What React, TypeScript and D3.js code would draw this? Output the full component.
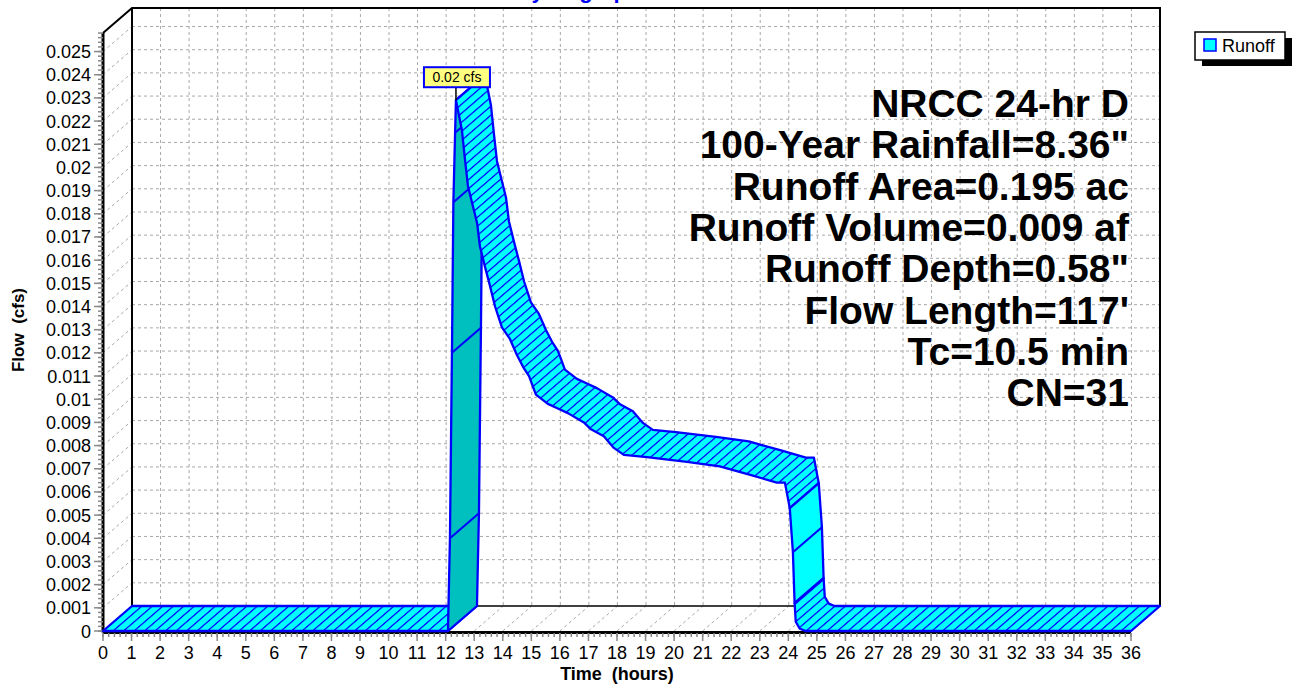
import * as d3 from "d3";

// hydrograph vertices (hours, cfs)
const times = [
  0, 12.08, 12.15, 12.22, 12.27, 12.33, 12.36, 12.57, 12.68, 12.78, 12.92, 13.1,
  13.2, 13.38, 13.55, 13.73, 13.97, 14.25, 14.5, 14.71, 14.92, 15.16, 15.58,
  15.93, 16.28, 16.84, 17.09, 17.54, 17.89, 18.24, 19.05, 20.45, 21.6, 22.76,
  23.6, 23.88, 24.05, 24.16, 24.22, 24.26, 24.4, 24.6, 36,
];
const flows = [
  0, 0, 0.004, 0.012, 0.0185, 0.0215, 0.0229, 0.0216, 0.0203, 0.0192, 0.0185,
  0.0176, 0.0166, 0.0157, 0.0149, 0.014, 0.0131, 0.0126, 0.0119, 0.0114, 0.011,
  0.0102, 0.0098, 0.0096, 0.0094, 0.009, 0.0087, 0.0084, 0.0079, 0.0076,
  0.0075, 0.0073, 0.0071, 0.0067, 0.0064, 0.0064, 0.0053, 0.0034, 0.0012,
  0.0004, 0.0001, 0, 0,
];
const yTicks = [
  0, 0.001, 0.002, 0.003, 0.004, 0.005, 0.006, 0.007, 0.008, 0.009, 0.01,
  0.011, 0.012, 0.013, 0.014, 0.015, 0.016, 0.017, 0.018, 0.019, 0.02, 0.021,
  0.022, 0.023, 0.024, 0.025,
];
const xTicks = [
  0, 1, 2, 3, 4, 5, 6, 7, 8, 9, 10, 11, 12, 13, 14, 15, 16, 17, 18, 19, 20, 21,
  22, 23, 24, 25, 26, 27, 28, 29, 30, 31, 32, 33, 34, 35, 36,
];
const notes = [
  "NRCC 24-hr D",
  '100-Year Rainfall=8.36"',
  "Runoff Area=0.195 ac",
  "Runoff Volume=0.009 af",
  'Runoff Depth=0.58"',
  "Flow Length=117'",
  "Tc=10.5 min",
  "CN=31",
];
const peakLabel = "0.02 cfs";
const seriesName = "Runoff";
const chartTitle = "Hydrograph";

const DX = 29;
const DY = -25;
const FONT = "Arial, 'Liberation Sans', sans-serif";
const GRID = "#a8a8a8";
const BLUE = "#0000ff";

type Kind = "hatch" | "plain" | "under";

export default function App() {
  const x = d3.scaleLinear().domain([0, 36]).range([103, 1131]);
  const y = d3.scaleLinear().domain([0, 0.0258]).range([631, 33]);
  const line = d3.line();

  const pts: [number, number][] = times.map((t, i) => [x(t), y(flows[i])]);
  const back = (p: [number, number]): [number, number] => [p[0] + DX, p[1] + DY];

  // group segments by the face that shows: top (hatched), long drops (plain), underside (teal)
  const runs: { a: number; b: number; kind: Kind }[] = [];
  for (let i = 0; i < pts.length - 1; i++) {
    const dx = pts[i + 1][0] - pts[i][0];
    const dy = pts[i + 1][1] - pts[i][1];
    const top = dx * DY - dy * DX <= 0;
    const kind: Kind = !top ? "under" : dy > 35 ? "plain" : "hatch";
    const last = runs[runs.length - 1];
    if (last && last.kind === kind) last.b = i + 1;
    else runs.push({ a: i, b: i + 1, kind });
  }

  const x0 = x(0), x1 = x(36), yTop = y(0.0258), yBase = y(0);
  const peakIdx = flows.indexOf(d3.max(flows) as number);
  const peak = pts[peakIdx];
  const hatchAngle = (Math.atan(DX / DY) * 180) / Math.PI;

  return (
    <svg
      width={1294}
      height={685}
      style={{ position: "absolute", left: 0, top: 0, background: "#fff" }}
      fontFamily={FONT}
    >
      <defs>
        <pattern
          id="hatch"
          patternUnits="userSpaceOnUse"
          width={10.5}
          height={25}
          patternTransform={`skewX(${hatchAngle})`}
        >
          <rect width={10.5} height={25} fill="#00ffff" />
          <line x1={5} y1={-2} x2={5} y2={27} stroke={BLUE} strokeWidth={1.9} />
        </pattern>
      </defs>

      {/* title, mostly above the page like the original */}
      <text x={578} y={-2} textAnchor="middle" fontSize={22} fontWeight="bold" fill={BLUE}>
        {chartTitle}
      </text>

      {/* back wall grid */}
      {yTicks.slice(1).map((v) => (
        <line key={"bh" + v} x1={x0 + DX} x2={x1 + DX} y1={y(v) + DY} y2={y(v) + DY}
          stroke={GRID} strokeDasharray="3,3" />
      ))}
      {xTicks.slice(1, -1).map((t) => (
        <line key={"bv" + t} x1={x(t) + DX} x2={x(t) + DX} y1={yTop + DY} y2={yBase + DY}
          stroke={GRID} strokeDasharray="3,3" />
      ))}
      {/* left wall and floor diagonals */}
      {yTicks.map((v) => (
        <line key={"lw" + v} x1={x0} y1={y(v)} x2={x0 + DX} y2={y(v) + DY}
          stroke={GRID} strokeDasharray="3,3" />
      ))}
      {xTicks.map((t) => (
        <line key={"fl" + t} x1={x(t)} y1={yBase} x2={x(t) + DX} y2={yBase + DY}
          stroke={GRID} strokeDasharray="3,3" />
      ))}

      {/* box edges */}
      <g stroke="#000" fill="none">
        <path d={`M${x0},${yTop}L${x0 + DX},${yTop + DY}H${x1 + DX}V${yBase + DY}`} strokeWidth={2} />
        <line x1={x0 + DX} x2={x0 + DX} y1={yTop + DY} y2={yBase + DY} strokeWidth={2} />
        <line x1={x0 + DX} x2={x1 + DX} y1={yBase + DY} y2={yBase + DY} strokeWidth={1.5} />
        <line x1={x0} x2={x0} y1={yTop} y2={yBase + 1.5} strokeWidth={3} />
        <line x1={x0} x2={x1} y1={yBase + 1.5} y2={yBase + 1.5} strokeWidth={3} />
      </g>

      {/* y ticks */}
      {y.ticks(129).map((v, i) => (
        <line key={"ym" + i} x1={x0 - 5} x2={x0} y1={y(v)} y2={y(v)} stroke="#888" strokeWidth={1.5} />
      ))}
      {yTicks.map((v) => (
        <g key={"yt" + v}>
          <line x1={x0 - 9} x2={x0} y1={y(v)} y2={y(v)} stroke="#888" strokeWidth={1.5} />
          <text x={x0 - 12} y={y(v) + 6.5} textAnchor="end" fontSize={18}>
            {d3.format("~g")(v)}
          </text>
        </g>
      ))}
      {/* x ticks */}
      {x.ticks(180).map((t, i) => (
        <line key={"xm" + i} x1={x(t)} x2={x(t)} y1={yBase + 2} y2={yBase + 6} stroke="#888" strokeWidth={1.5} />
      ))}
      {xTicks.map((t) => (
        <g key={"xt" + t}>
          <line x1={x(t)} x2={x(t)} y1={yBase + 2} y2={yBase + 10} stroke="#888" strokeWidth={1.5} />
          <text x={x(t)} y={yBase + 28} textAnchor="middle" fontSize={18}>
            {t}
          </text>
        </g>
      ))}

      {/* ribbon, drawn left to right so later parts cover earlier ones */}
      {runs.map((r, k) => {
        const front = pts.slice(r.a, r.b + 1);
        const poly = [...front, ...front.slice().reverse().map(back)];
        const fill = r.kind === "hatch" ? "url(#hatch)" : r.kind === "plain" ? "#00ffff" : "#00bfbf";
        return (
          <g key={"run" + k}>
            <path d={line(poly) + "Z"} fill={fill} stroke={BLUE} strokeWidth={2.3} strokeLinejoin="round" />
            {r.kind !== "hatch" &&
              front.slice(1, -1).map((p, j) => (
                <line key={j} x1={p[0]} y1={p[1]} x2={p[0] + DX} y2={p[1] + DY}
                  stroke={BLUE} strokeWidth={2} />
              ))}
          </g>
        );
      })}

      {/* peak label */}
      <line x1={peak[0]} x2={peak[0]} y1={peak[1]} y2={peak[1] - 13} stroke="#000" strokeWidth={1.5} />
      <rect x={peak[0] - 32} y={peak[1] - 33} width={66} height={20} fill="#ffff80" stroke={BLUE} strokeWidth={2} />
      <text x={peak[0] + 1} y={peak[1] - 18} textAnchor="middle" fontSize={14}>
        {peakLabel}
      </text>

      {/* notes */}
      {notes.map((s, i) => (
        <text key={s} x={1129} y={117 + i * 41.3} textAnchor="end" fontSize={39} fontWeight="bold">
          {s}
        </text>
      ))}

      {/* axis titles */}
      <text x={617} y={680} textAnchor="middle" fontSize={18} fontWeight="bold" style={{ whiteSpace: "pre" }}>
        {"Time  (hours)"}
      </text>
      <text
        transform="translate(24,330) rotate(-90)"
        textAnchor="middle"
        fontSize={17}
        fontWeight="bold"
        style={{ whiteSpace: "pre" }}
      >
        {"Flow  (cfs)"}
      </text>

      {/* legend */}
      <rect x={1202} y={38} width={90} height={28} fill="#000" />
      <rect x={1195} y={32} width={90} height={28} fill="#fff" stroke="#000" strokeWidth={1.5} />
      <rect x={1204} y={39} width={12} height={12} fill="#00ffff" stroke={BLUE} strokeWidth={1.5} />
      <text x={1222} y={52} fontSize={18}>
        {seriesName}
      </text>
    </svg>
  );
}
